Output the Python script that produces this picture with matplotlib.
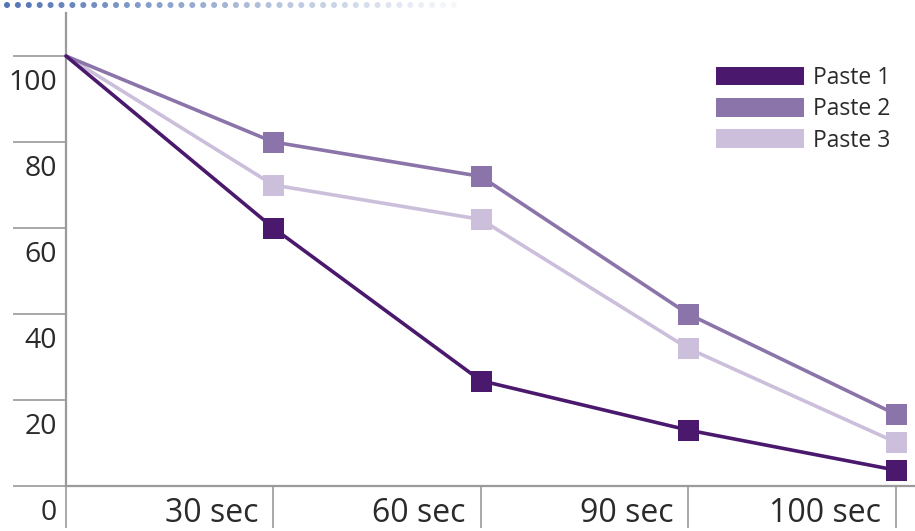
import numpy as np
import matplotlib
matplotlib.use("Agg")
import matplotlib.pyplot as plt
from matplotlib.patches import Patch

# Data
categories = ["", "30 sec", "60 sec", "90 sec", "100 sec"]
series_names = ["Paste 1", "Paste 2", "Paste 3"]
paste1 = [100, 60, 24.5, 13, 3.7]
paste2 = [100, 80, 72, 40, 16.7]
paste3 = [100, 70, 62, 32, 10.2]
y_ticks = [0, 20, 40, 60, 80, 100]

colors = ["#4a196e", "#8b74a9", "#cbbfdb"]
grey = "#9a9a9a"
text_color = "#2a2a2a"
plt.rcParams["font.family"] = ["Open Sans", "DejaVu Sans"]

W, H, DPI = 915, 531, 100
fig = plt.figure(figsize=(W / DPI, H / DPI), dpi=DPI)

# Plot area in pixels: left spine x=66, bottom spine y=486, top y=13, right edge 915
left_px, bottom_px, top_px = 66, 486, 13
ax = fig.add_axes([left_px / W, (H - bottom_px) / H,
                   (W - left_px) / W, (bottom_px - top_px) / H])
step_px = 207.4
ax.set_xlim(0, (W - left_px) / step_px)
ax.set_ylim(0, (bottom_px - top_px) / 4.3)

for s in ["top", "right"]:
    ax.spines[s].set_visible(False)
for s in ["left", "bottom"]:
    ax.spines[s].set_color(grey)
    ax.spines[s].set_linewidth(1.6)

px2pt = 72 / DPI
ax.set_yticks(y_ticks)
ax.set_yticklabels([])
ax.tick_params(axis="y", direction="out", length=53 * px2pt, width=1.2,
               color=grey)
x = np.arange(len(categories))
ax.set_xticks(x)
ax.set_xticklabels([])
ax.tick_params(axis="x", direction="out", length=42 * px2pt, width=1.2,
               color=grey)

# Tick labels sit between the tick lines
for v in y_ticks:
    ax.annotate(str(v), xy=(0, v), xycoords="data", xytext=(-9, -27),
                textcoords="offset pixels", ha="right", va="center",
                fontsize=20.5, color=text_color, annotation_clip=False)
for i, lab in enumerate(categories):
    if lab:
        ax.annotate(lab, xy=(i, 0), xycoords="data", xytext=(-15, -27),
                    textcoords="offset pixels", ha="right", va="center",
                    fontsize=23, color=text_color, annotation_clip=False)

# Series lines with square markers (no marker at the start point)
for vals, c in [(paste3, colors[2]), (paste2, colors[1]), (paste1, colors[0])]:
    ax.plot(x, vals, color=c, lw=3.6 * px2pt, solid_capstyle="round",
            clip_on=False, zorder=3)
    ax.plot(x[1:], vals[1:], linestyle="none", marker="s",
            markersize=21 * px2pt, color=c, markeredgewidth=0,
            clip_on=False, zorder=4)

# Legend
handles = [Patch(facecolor=c, edgecolor="none", label=n)
           for c, n in zip(colors, series_names)]
fs = 16.5
fs_px = fs / px2pt
leg = ax.legend(handles=handles, loc="upper left",
                bbox_to_anchor=(716 / W, 1 - 66 / H),
                bbox_transform=fig.transFigure, frameon=False,
                fontsize=fs, borderpad=0, borderaxespad=0,
                handlelength=88 / fs_px, handleheight=20 / fs_px,
                handletextpad=9 / fs_px, labelspacing=0.32)
for t in leg.get_texts():
    t.set_color(text_color)

# Dotted header rule fading to the right
n_dots = 42
dx = 7 + np.arange(n_dots) * 10.9
alphas = np.linspace(1.0, 0.05, n_dots)
dot_colors = [(0.33, 0.46, 0.70, a) for a in alphas]
ax.scatter(dx / W, np.full(n_dots, 1 - 5 / H), s=(6 * px2pt) ** 2,
           c=dot_colors, linewidths=0, transform=fig.transFigure,
           clip_on=False)

fig.savefig("out.png", dpi=DPI)
